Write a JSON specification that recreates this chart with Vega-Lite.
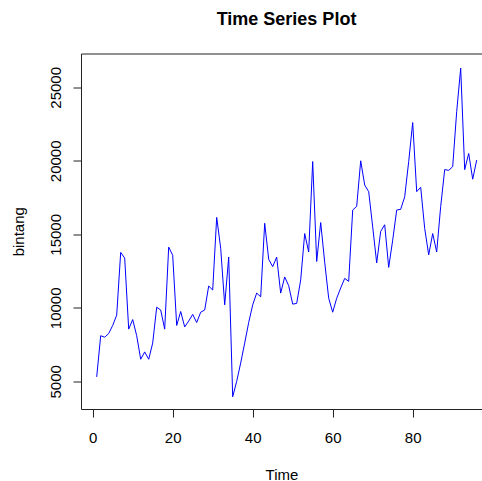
{
  "$schema": "https://vega.github.io/schema/vega-lite/v6.json",
  "width": 401,
  "height": 355.5,
  "autosize": {"type": "none"},
  "padding": {"left": 81, "top": 53.5, "right": 0, "bottom": 72},
  "background": "white",
  "title": {"text": "Time Series Plot", "font": "Liberation Sans", "fontSize": 18, "fontWeight": "bold", "color": "#000000", "anchor": "middle", "frame": "group", "baseline": "alphabetic", "offset": 10.5, "dx": 5},
  "config": {
    "view": {"stroke": "#222222", "strokeWidth": 1},
    "axis": {"domain": false, "grid": false, "tickColor": "#222222", "tickSize": 8, "tickWidth": 1, "labelFont": "Liberation Sans", "labelFontSize": 15, "labelColor": "#000000", "titleFont": "Liberation Sans", "titleFontSize": 15, "titleFontWeight": "normal", "titleColor": "#000000"}
  },
  "data": {"values": [
    {"Time": 1, "bintang": 5300}, {"Time": 2, "bintang": 8100}, {"Time": 3, "bintang": 8000}, {"Time": 4, "bintang": 8250},
    {"Time": 5, "bintang": 8800}, {"Time": 6, "bintang": 9500}, {"Time": 7, "bintang": 13770}, {"Time": 8, "bintang": 13380},
    {"Time": 9, "bintang": 8550}, {"Time": 10, "bintang": 9200}, {"Time": 11, "bintang": 8100}, {"Time": 12, "bintang": 6500},
    {"Time": 13, "bintang": 7000}, {"Time": 14, "bintang": 6500}, {"Time": 15, "bintang": 7600}, {"Time": 16, "bintang": 10040},
    {"Time": 17, "bintang": 9850}, {"Time": 18, "bintang": 8550}, {"Time": 19, "bintang": 14130}, {"Time": 20, "bintang": 13570},
    {"Time": 21, "bintang": 8800}, {"Time": 22, "bintang": 9750}, {"Time": 23, "bintang": 8700}, {"Time": 24, "bintang": 9100},
    {"Time": 25, "bintang": 9550}, {"Time": 26, "bintang": 9000}, {"Time": 27, "bintang": 9700}, {"Time": 28, "bintang": 9850},
    {"Time": 29, "bintang": 11480}, {"Time": 30, "bintang": 11210}, {"Time": 31, "bintang": 16150}, {"Time": 32, "bintang": 14050},
    {"Time": 33, "bintang": 10200}, {"Time": 34, "bintang": 13450}, {"Time": 35, "bintang": 3950}, {"Time": 36, "bintang": 5000},
    {"Time": 37, "bintang": 6250}, {"Time": 38, "bintang": 7600}, {"Time": 39, "bintang": 9000}, {"Time": 40, "bintang": 10200},
    {"Time": 41, "bintang": 11000}, {"Time": 42, "bintang": 10750}, {"Time": 43, "bintang": 15750}, {"Time": 44, "bintang": 13300},
    {"Time": 45, "bintang": 12800}, {"Time": 46, "bintang": 13450}, {"Time": 47, "bintang": 11000}, {"Time": 48, "bintang": 12100},
    {"Time": 49, "bintang": 11500}, {"Time": 50, "bintang": 10250}, {"Time": 51, "bintang": 10300}, {"Time": 52, "bintang": 11900},
    {"Time": 53, "bintang": 15050}, {"Time": 54, "bintang": 13800}, {"Time": 55, "bintang": 19950}, {"Time": 56, "bintang": 13150},
    {"Time": 57, "bintang": 15800}, {"Time": 58, "bintang": 13100}, {"Time": 59, "bintang": 10650}, {"Time": 60, "bintang": 9700},
    {"Time": 61, "bintang": 10650}, {"Time": 62, "bintang": 11350}, {"Time": 63, "bintang": 12000}, {"Time": 64, "bintang": 11800},
    {"Time": 65, "bintang": 16650}, {"Time": 66, "bintang": 16900}, {"Time": 67, "bintang": 20000}, {"Time": 68, "bintang": 18350},
    {"Time": 69, "bintang": 17900}, {"Time": 70, "bintang": 15500}, {"Time": 71, "bintang": 13050}, {"Time": 72, "bintang": 15200},
    {"Time": 73, "bintang": 15650}, {"Time": 74, "bintang": 12750}, {"Time": 75, "bintang": 14600}, {"Time": 76, "bintang": 16650},
    {"Time": 77, "bintang": 16700}, {"Time": 78, "bintang": 17550}, {"Time": 79, "bintang": 19950}, {"Time": 80, "bintang": 22600},
    {"Time": 81, "bintang": 17900}, {"Time": 82, "bintang": 18200}, {"Time": 83, "bintang": 15400}, {"Time": 84, "bintang": 13600},
    {"Time": 85, "bintang": 15050}, {"Time": 86, "bintang": 13800}, {"Time": 87, "bintang": 16900}, {"Time": 88, "bintang": 19400},
    {"Time": 89, "bintang": 19350}, {"Time": 90, "bintang": 19600}, {"Time": 91, "bintang": 23350}, {"Time": 92, "bintang": 26300},
    {"Time": 93, "bintang": 19400}, {"Time": 94, "bintang": 20500}, {"Time": 95, "bintang": 18750}, {"Time": 96, "bintang": 20050}
  ]},
  "mark": {"type": "line", "color": "#0000FF", "strokeWidth": 1, "clip": true},
  "encoding": {
    "x": {"field": "Time", "type": "quantitative", "title": "Time",
      "scale": {"domain": [-2.925, 97.325], "nice": false, "zero": false},
      "axis": {"values": [0, 20, 40, 60, 80], "format": "d", "labelBaseline": "alphabetic", "labelPadding": 25.7, "labelAlign": "center", "titleY": 70, "titleBaseline": "alphabetic", "titleAnchor": "middle"}},
    "y": {"field": "bintang", "type": "quantitative", "title": "bintang",
      "scale": {"domain": [3116, 27299], "nice": false, "zero": false},
      "axis": {"values": [5000, 10000, 15000, 20000, 25000], "format": "d", "labelAngle": 270, "labelAlign": "center", "labelBaseline": "alphabetic", "labelPadding": 13, "titleAngle": 270, "titleX": -58, "titleY": 177.75, "titleAlign": "center", "titleBaseline": "alphabetic"}}
  }
}
